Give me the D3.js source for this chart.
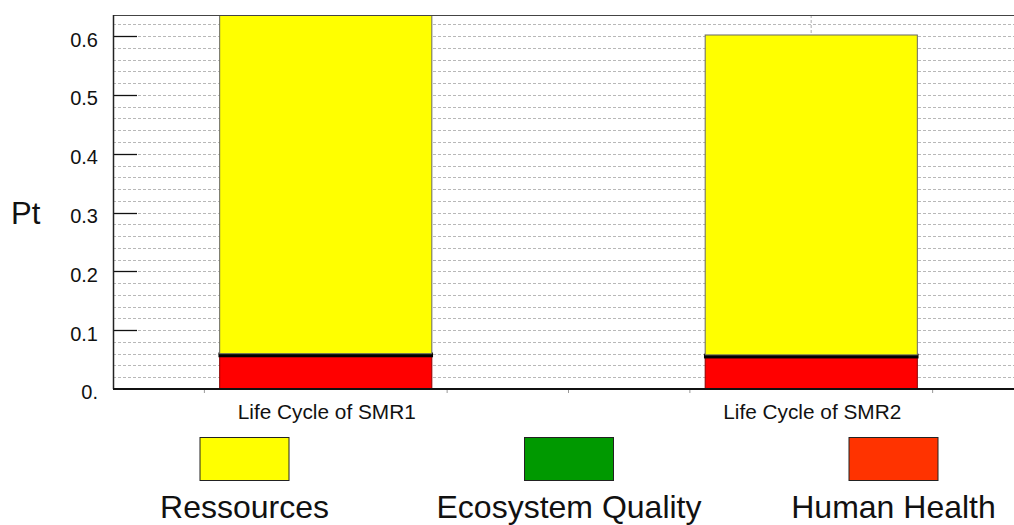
<!DOCTYPE html>
<html>
<head>
<meta charset="utf-8">
<script src="https://cdn.jsdelivr.net/npm/d3@7"></script>
<style>
  body { margin: 0; background: #fff; }
  text { font-family: "Liberation Sans", Arial, sans-serif; fill: #111; }
</style>
</head>
<body>
<script>
var categories = ["Life Cycle of SMR1", "Life Cycle of SMR2"];
var series = ["Ressources", "Ecosystem Quality", "Human Health"];
var humanHealth = [0.056, 0.054];
var ecosystemQuality = [0.004, 0.004];
var ressources = [0.60, 0.544];
var yTicks = [0, 0.1, 0.2, 0.3, 0.4, 0.5, 0.6];

var width = 1014, height = 525;
var plotLeft = 113, plotRight = 1060, plotTop = 15, plotBottom = 389;

var svg = d3.select("body").append("svg")
    .attr("width", width)
    .attr("height", height);

var x = d3.scalePoint()
    .domain(categories)
    .range([83, 1054])
    .padding(0.5);
var step = x.step();
var barW = step * 0.437;

var y = d3.scaleLinear()
    .domain([0, 0.636])
    .range([plotBottom, plotTop]);

// stack from bottom: human health, ecosystem, ressources
var rows = categories.map(function(c, i) {
  return { cat: c, hh: humanHealth[i], eq: ecosystemQuality[i], res: ressources[i] };
});
var stack = d3.stack().keys(["hh", "eq", "res"])(rows);
var fills = { hh: "#ff0000", eq: "#009900", res: "#ffff00" };
var strokes = { hh: "#8a0000", eq: "#000", res: "#666" };
var strokeW = { hh: 1, eq: 2.4, res: 1 };

svg.append("clipPath").attr("id", "plot")
  .append("rect").attr("x", plotLeft).attr("y", plotTop)
    .attr("width", plotRight - plotLeft).attr("height", plotBottom - plotTop);

var plot = svg.append("g").attr("clip-path", "url(#plot)");

// minor gridlines every 0.02
var grid = d3.range(1, 32).map(function(i) { return i * 0.02; });
plot.selectAll("line.grid")
  .data(grid)
  .enter().append("line")
    .attr("x1", plotLeft).attr("x2", plotRight)
    .attr("y1", function(d) { return Math.round(y(d)) + 0.5; })
    .attr("y2", function(d) { return Math.round(y(d)) + 0.5; })
    .attr("stroke", "#b8b8b8")
    .attr("stroke-dasharray", "3,2");

// vertical gridlines at category centres
plot.selectAll("line.vgrid")
  .data(categories)
  .enter().append("line")
    .attr("x1", function(d) { return x(d); })
    .attr("x2", function(d) { return x(d); })
    .attr("y1", plotTop).attr("y2", plotBottom)
    .attr("stroke", "#c8c8c8")
    .attr("stroke-width", 1.5)
    .attr("stroke-dasharray", "3,2");

// bars
plot.selectAll("g.layer")
  .data(stack)
  .enter().append("g")
    .attr("fill", function(d) { return fills[d.key]; })
    .attr("stroke", function(d) { return strokes[d.key]; })
    .attr("stroke-width", function(d) { return strokeW[d.key]; })
  .selectAll("rect")
  .data(function(d) { return d; })
  .enter().append("rect")
    .attr("x", function(d) { return x(d.data.cat) - barW / 2; })
    .attr("y", function(d) { return y(d[1]); })
    .attr("width", barW)
    .attr("height", function(d) { return y(d[0]) - y(d[1]); });

// major ticks inside the plot
svg.selectAll("line.major")
  .data(yTicks.filter(function(d) { return d > 0; }))
  .enter().append("line")
    .attr("x1", plotLeft).attr("x2", plotLeft + 24)
    .attr("y1", function(d) { return Math.round(y(d)) + 0.5; })
    .attr("y2", function(d) { return Math.round(y(d)) + 0.5; })
    .attr("stroke", "#111")
    .attr("stroke-width", 1.3);

// frame
svg.append("line")
    .attr("x1", plotLeft).attr("x2", width).attr("y1", plotTop + 0.5).attr("y2", plotTop + 0.5)
    .attr("stroke", "#444");
svg.append("line")
    .attr("x1", plotLeft + 0.5).attr("x2", plotLeft + 0.5).attr("y1", plotTop).attr("y2", plotBottom)
    .attr("stroke", "#222").attr("stroke-width", 1.5);
svg.append("line")
    .attr("x1", plotLeft).attr("x2", width).attr("y1", plotBottom).attr("y2", plotBottom)
    .attr("stroke", "#111").attr("stroke-width", 2);

// small x ticks below axis (quarter steps, not at centres)
var xt = [];
categories.forEach(function(c) { xt.push(x(c) - step / 4, x(c) + step / 4); });
xt.push(x(categories[0]) + step / 2);
svg.selectAll("line.xt")
  .data(xt)
  .enter().append("line")
    .attr("x1", function(d) { return d; }).attr("x2", function(d) { return d; })
    .attr("y1", plotBottom + 1).attr("y2", plotBottom + 4)
    .attr("stroke", "#999");

// y tick labels
svg.selectAll("text.ytick")
  .data(yTicks)
  .enter().append("text")
    .attr("x", 98)
    .attr("y", function(d) { return y(d); })
    .attr("dy", "0.52em")
    .attr("text-anchor", "end")
    .attr("font-size", "20px")
    .text(function(d) { return d === 0 ? "0." : d3.format(".1f")(d); });

svg.append("text")
    .attr("x", 11).attr("y", 224)
    .attr("font-size", "31px")
    .text("Pt");

// category labels
svg.selectAll("text.cat")
  .data(categories)
  .enter().append("text")
    .attr("x", function(d) { return x(d) + 1; })
    .attr("y", 419)
    .attr("text-anchor", "middle")
    .attr("font-size", "20.8px")
    .text(function(d) { return d; });

// legend
var legendColors = ["#ffff00", "#009900", "#ff3300"];
var lx = d3.scalePoint().domain(series).range([244.5, 893.5]);
var leg = svg.selectAll("g.leg")
  .data(series)
  .enter().append("g")
    .attr("transform", function(d) { return "translate(" + lx(d) + ",0)"; });
leg.append("rect")
    .attr("x", -44.5).attr("y", 437.5)
    .attr("width", 89).attr("height", 43)
    .attr("fill", function(d, i) { return legendColors[i]; })
    .attr("stroke", "#222");
leg.append("text")
    .attr("y", 518)
    .attr("text-anchor", "middle")
    .attr("font-size", "32px")
    .text(function(d) { return d; });
</script>
</body>
</html>
